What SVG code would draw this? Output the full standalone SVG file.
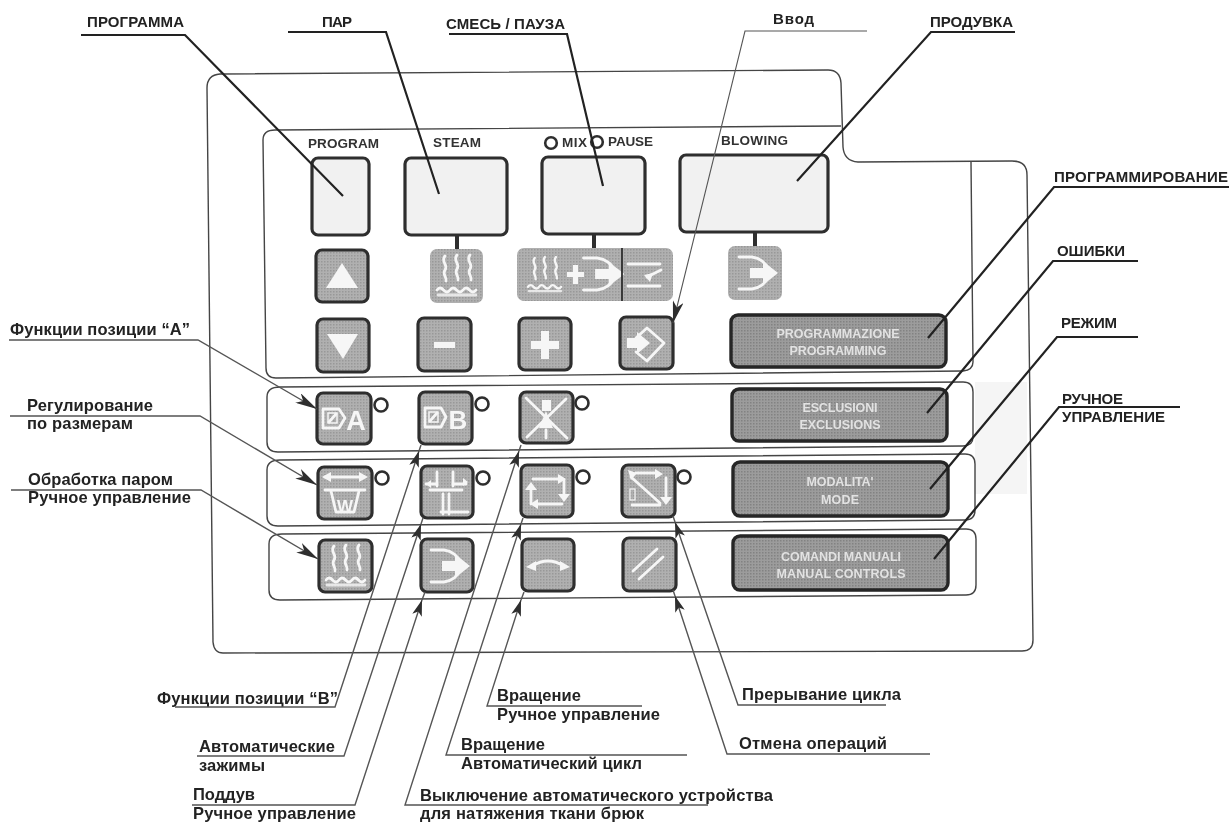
<svg xmlns="http://www.w3.org/2000/svg" width="1230" height="822" viewBox="0 0 1230 822">
<style>
text{font-family:"Liberation Sans",Arial,sans-serif}
.lb{font-weight:bold;font-size:16.500px;fill:#222}
.up{font-weight:bold;font-size:15px;fill:#222}
.pl{font-weight:bold;font-size:13.500px;fill:#333}
.bt{font-size:12.500px;font-weight:bold;fill:#e2e2e2;text-anchor:middle}
.ic{font-weight:bold;fill:#f6f6f6;text-anchor:middle}
.panel{fill:none;stroke:#444;stroke-width:1.4}
.btn{fill:url(#dots);stroke:#2e2e2e;stroke-width:3.200}
.wide{fill:url(#dark);stroke:#252525;stroke-width:3.400}
.disp{fill:#f1f1f1;stroke:#2e2e2e;stroke-width:3.200}
.flat{fill:url(#dots)}
.led{fill:#fff;stroke:#2e2e2e;stroke-width:2.600}
.w{fill:none;stroke:#f6f6f6;stroke-width:2.800;stroke-linecap:round;stroke-linejoin:round}
.wf{fill:#f6f6f6}
.stub{stroke:#2e2e2e;stroke-width:4}
.thick{fill:none;stroke:#222;stroke-width:2.200}
.thin{fill:none;stroke:#555;stroke-width:1.100}
.mid{fill:none;stroke:#555;stroke-width:1.400}
</style>
<defs>
<pattern id="dots" width="3" height="3" patternUnits="userSpaceOnUse"><rect width="3" height="3" fill="#b0b0b0"/><rect width="1.500" height="1.500" fill="#989898"/></pattern>
<pattern id="dark" width="3" height="3" patternUnits="userSpaceOnUse"><rect width="3" height="3" fill="#9c9c9c"/><rect width="1.500" height="1.500" fill="#828282"/></pattern>
<filter id="soft" x="0" y="0" width="100%" height="100%"><feGaussianBlur stdDeviation="0.45"/></filter>
<marker id="ah" markerUnits="userSpaceOnUse" markerWidth="22" markerHeight="11" refX="22" refY="5.500" orient="auto"><path d="M0 0L22 5.500L0 11L6 5.500z" fill="#2e2e2e"/></marker>
<marker id="as" markerUnits="userSpaceOnUse" markerWidth="16" markerHeight="10" refX="16" refY="5" orient="auto"><path d="M0 0L16 5L0 10L4 5z" fill="#2e2e2e"/></marker>
<g id="i-steam"><path class="w" d="M15 7c-5 6 4 9 0 14c-3 4 2 7 1 11M27 6c-5 6 4 9 0 14c-3 4 2 7 1 11M40 6c-5 6 4 9 0 14c-3 4 2 7 1 11"/><path class="w" d="M7 41q3-4 6.500 0t6.500 0t6.500 0t6.500 0t6.500 0t6.500 0" stroke-width="2.200"/><path class="w" d="M8 46H46" stroke-width="1.500" opacity=".8"/></g>
<g id="i-blow"><path class="w" d="M11 11h13c8 1 14 6 16 12M11 43h13c8-1 14-6 16-12"/><path class="wf" d="M22 22h13v-7l15 12l-15 12v-7h-13z"/></g>
</defs>
<rect width="1230" height="822" fill="#fff"/>
<g filter="url(#soft)">
<rect x="975" y="382" width="52" height="112" fill="#f5f5f5"/>
<g id="panels">
<path class="panel" d="M207 88Q207 75 220 74L828 70Q840 70 841 83L843 147Q844 161 858 162L1012 161Q1027 161 1027 175L1033 640Q1033 651 1022 651L223 653Q214 653 213 642z"/>
<path class="panel" d="M971 162L973 362Q973 370 963 371"/>
<path class="panel" d="M841 126L275 130Q263 130 263 140L266 368Q266 378 276 378L963 371" stroke-width="1.800"/>
<path class="panel" d="M280 387L963 382Q973 382 973 392L973 437Q973 446 963 446L278 452Q267 452 267 442L267 397Q267 387 280 387z"/>
<path class="panel" d="M280 460L965 454Q975 454 975 464L975 510Q975 520 965 520L278 526Q267 526 267 516L267 470Q267 460 280 460z"/>
<path class="panel" d="M282 534L966 529Q976 529 976 539L976 585Q976 595 966 595L280 600Q269 600 269 590L269 544Q269 534 282 534z"/>
</g>

<g id="display-program"><text class="pl" x="308" y="148" textLength="71">PROGRAM</text><rect class="disp" x="312" y="158" width="57" height="77" rx="6"/></g>
<g id="display-steam"><text class="pl" x="433" y="147" textLength="48">STEAM</text><path class="stub" d="M457 235V250"/><rect class="disp" x="405" y="158" width="102" height="77" rx="6"/></g>
<g id="display-mix"><circle class="led" cx="551" cy="143" r="5.800"/><text class="pl" x="562" y="147" textLength="25">MIX</text><circle class="led" cx="597" cy="142" r="5.800"/><text class="pl" x="608" y="146" textLength="45">PAUSE</text><path class="stub" d="M594 234V249"/><rect class="disp" x="542" y="157" width="103" height="77" rx="6"/></g>
<g id="display-blowing"><text class="pl" x="721" y="145" textLength="67">BLOWING</text><path class="stub" d="M755 232V247"/><rect class="disp" x="680" y="155" width="148" height="77" rx="6"/></g>

<g id="btn-up"><rect class="btn" x="316" y="250" width="52" height="52" rx="6"/><path class="wf" d="M342 263L358 288H326z"/></g>
<g id="btn-down"><rect class="btn" x="317" y="319" width="52" height="53" rx="6"/><path class="wf" d="M327 334H358L343 359z"/></g>
<g id="btn-minus"><rect class="btn" x="418" y="318" width="53" height="53" rx="6"/><rect class="wf" x="434" y="342" width="21" height="6"/></g>
<g id="btn-plus"><rect class="btn" x="519" y="318" width="52" height="52" rx="6"/><path class="wf" d="M541 331h8v10h10v8h-10v10h-8v-10h-10v-8h10z"/></g>
<g id="btn-enter"><rect class="btn" x="620" y="317" width="53" height="52" rx="6"/><path class="w" d="M636 338L647 328L664 343L647 361L636 352" stroke-width="4"/><path class="wf" d="M627 338h10v-6l13 11l-13 11v-6h-10z"/></g>
<g id="icon-steam"><rect class="flat" x="430" y="249" width="53" height="54" rx="7"/><use href="#i-steam" transform="translate(430 249)"/></g>
<g id="icon-mix"><rect class="flat" x="517" y="248" width="156" height="53" rx="7"/><use href="#i-steam" transform="translate(522 252) scale(.85)"/><path class="wf" d="M567 272h6v-7h5v7h6v5h-6v7h-5v-7h-6z"/><use href="#i-blow" transform="translate(572 247) scale(1.050 1)"/><path d="M622 248V301" stroke="#2e2e2e" stroke-width="1.800"/><path class="w" d="M628 264H660M628 286H660M661 270L647 277" stroke-width="3.500"/><path class="wf" d="M644 275l9-2l-3 9z"/></g>
<g id="icon-blow"><rect class="flat" x="728" y="246" width="54" height="54" rx="7"/><use href="#i-blow" transform="translate(728 246)"/></g>
<g id="btn-programming"><rect class="wide" x="731" y="315" width="215" height="52" rx="7"/><text class="bt" x="838" y="338" textLength="123">PROGRAMMAZIONE</text><text class="bt" x="838" y="355" textLength="97">PROGRAMMING</text></g>

<g id="btn-a"><rect class="btn" x="317" y="393" width="54" height="51" rx="6"/><path class="w" d="M323 409H339L345 418L339 428H323z" stroke-width="1.500"/><rect x="328" y="413" width="9" height="10" fill="none" stroke="#f6f6f6" stroke-width="1.500"/><path class="w" d="M329 422L336 414" stroke-width="1"/><text class="ic" x="356" y="430" font-size="27">A</text><circle class="led" cx="381" cy="405" r="6.500"/></g>
<g id="btn-b"><rect class="btn" x="419" y="392" width="53" height="52" rx="6"/><path class="w" d="M425 408H441L446 417L441 427H425z" stroke-width="1.500"/><rect x="429" y="412" width="9" height="10" fill="none" stroke="#f6f6f6" stroke-width="1.500"/><path class="w" d="M430 421L437 413" stroke-width="1"/><text class="ic" x="458" y="429" font-size="26">B</text><circle class="led" cx="482" cy="404" r="6.500"/></g>
<g id="btn-x"><rect class="btn" x="520" y="392" width="53" height="51" rx="6"/><path class="w" d="M526 398L567 438M566 399L527 437" stroke-width="2.400"/><rect class="wf" x="542" y="400" width="9" height="11"/><path class="wf" d="M546 411L553 428H539z"/><path class="w" d="M546 430V438" stroke-width="1.500"/><circle class="led" cx="582" cy="403" r="6.500"/></g>

<g id="btn-w"><rect class="btn" x="318" y="467" width="54" height="52" rx="6"/><path class="w" d="M325 477H364M325 490H365" stroke-width="2.400"/><path class="wf" d="M322 477l9-5v10zM368 477l-9-5v10z"/><path class="w" d="M331 491L336 512H354L359 491" stroke-width="2.200"/><text class="ic" x="345" y="512" font-size="17">W</text><circle class="led" cx="382" cy="478" r="6.500"/></g>
<g id="btn-clamps"><rect class="btn" x="421" y="466" width="52" height="52" rx="6"/><path class="w" d="M437 472V486M453 472V486M443 494V514M449 494V514" stroke-width="4"/><path class="w" d="M426 484H437M453 484H466M430 490H462M441 512H468" stroke-width="2"/><path class="wf" d="M426 484l5-4v8zM468 482l-5-4v8z"/><circle class="led" cx="483" cy="478" r="6.500"/></g>
<g id="btn-rot"><rect class="btn" x="521" y="465" width="52" height="52" rx="6"/><path class="w" d="M533 479H560M564 480V498M562 504H537M531 504V490" stroke-width="2.800"/><path class="wf" d="M558 474l8 5l-8 5zM558 494h12l-6 8zM538 499v10l-8-5zM525 490h12l-6-8z"/><circle class="led" cx="583" cy="477" r="6.500"/></g>
<g id="btn-rot2"><rect class="btn" x="622" y="465" width="53" height="52" rx="6"/><path class="w" d="M631 477L660 503M636 473H657M666 478V500M632 505H660" stroke-width="2.600"/><path class="wf" d="M655 469l8 5l-8 5zM660 497h12l-6 8zM628 470l9 3l-6 7z"/><rect x="630" y="489" width="5" height="11" fill="none" stroke="#f6f6f6" stroke-width="1.200"/><circle class="led" cx="684" cy="477" r="6.500"/></g>

<g id="btn-steam-man"><rect class="btn" x="319" y="540" width="53" height="52" rx="6"/><use href="#i-steam" transform="translate(319 539)"/></g>
<g id="btn-blow-man"><rect class="btn" x="421" y="539" width="52" height="53" rx="6"/><use href="#i-blow" transform="translate(420 539)"/></g>
<g id="btn-arc"><rect class="btn" x="522" y="539" width="52" height="52" rx="6"/><path class="w" d="M532 566Q548 556 564 566" stroke-width="2.600"/><path class="wf" d="M526 567l10-6v10zM570 567l-10-6v10z"/></g>
<g id="btn-cancel"><rect class="btn" x="623" y="538" width="53" height="53" rx="6"/><path class="w" d="M633 571L657 549M639 579L663 557" stroke-width="4"/></g>

<g id="btn-exclusions"><rect class="wide" x="732" y="389" width="215" height="52" rx="7"/><text class="bt" x="840" y="412" textLength="75">ESCLUSIONI</text><text class="bt" x="840" y="429" textLength="81">EXCLUSIONS</text></g>
<g id="btn-mode"><rect class="wide" x="733" y="462" width="215" height="54" rx="7"/><text class="bt" x="840" y="486" textLength="67">MODALITA'</text><text class="bt" x="840" y="504" textLength="38">MODE</text></g>
<g id="btn-manual"><rect class="wide" x="733" y="536" width="215" height="54" rx="7"/><text class="bt" x="841" y="561" textLength="120">COMANDI MANUALI</text><text class="bt" x="841" y="578" textLength="129">MANUAL CONTROLS</text></g>

<g id="labels">
<text class="up" x="87" y="27" textLength="97">ПРОГРАММА</text>
<text class="up" x="322" y="27" textLength="30">ПАР</text>
<text class="up" x="446" y="29" textLength="119">СМЕСЬ / ПАУЗА</text>
<text class="up" x="773" y="24" textLength="41">Ввод</text>
<text class="up" x="930" y="27" textLength="83">ПРОДУВКА</text>
<text class="up" x="1054" y="182" textLength="174">ПРОГРАММИРОВАНИЕ</text>
<text class="up" x="1057" y="256" textLength="68">ОШИБКИ</text>
<text class="up" x="1061" y="328" textLength="56">РЕЖИМ</text>
<text class="up" x="1062" y="404" textLength="61">РУЧНОЕ</text>
<text class="up" x="1062" y="422" textLength="103">УПРАВЛЕНИЕ</text>
<text class="lb" x="10" y="335" textLength="180">Функции позиции “А”</text>
<text class="lb" x="27" y="411" textLength="126">Регулирование</text>
<text class="lb" x="27" y="429" textLength="106">по размерам</text>
<text class="lb" x="28" y="485" textLength="145">Обработка паром</text>
<text class="lb" x="28" y="503" textLength="163">Ручное управление</text>
<text class="lb" x="157" y="704" textLength="181">Функции позиции “B”</text>
<text class="lb" x="199" y="752" textLength="136">Автоматические</text>
<text class="lb" x="199" y="771" textLength="66">зажимы</text>
<text class="lb" x="193" y="800" textLength="62">Поддув</text>
<text class="lb" x="193" y="819" textLength="163">Ручное управление</text>
<text class="lb" x="420" y="801" textLength="353">Выключение автоматического устройства</text>
<text class="lb" x="420" y="819" textLength="224">для натяжения ткани брюк</text>
<text class="lb" x="461" y="750" textLength="84">Вращение</text>
<text class="lb" x="461" y="769" textLength="181">Автоматический цикл</text>
<text class="lb" x="497" y="701" textLength="84">Вращение</text>
<text class="lb" x="497" y="720" textLength="163">Ручное управление</text>
<text class="lb" x="742" y="700" textLength="159">Прерывание цикла</text>
<text class="lb" x="739" y="749" textLength="148">Отмена операций</text>
</g>

<g id="connectors">
<path class="thick" d="M81 35H185L343 196"/>
<path class="thick" d="M288 32H386L439 194"/>
<path class="thick" d="M449 34H567L603 186"/>
<path class="thin" d="M867 31H745L673 323" marker-end="url(#ah)"/>
<path class="thick" d="M1015 32H931L797 181"/>
<path class="thick" d="M1229 187H1054L928 338"/>
<path class="thick" d="M1138 261H1053L927 413"/>
<path class="thick" d="M1138 337H1057L930 489"/>
<path class="thick" d="M1180 407H1059L934 559"/>
<path class="mid" d="M9 340H198L317 409" marker-end="url(#ah)"/>
<path class="mid" d="M10 416H200L317 485" marker-end="url(#ah)"/>
<path class="mid" d="M11 490H201L318 559" marker-end="url(#ah)"/>
<path class="mid" d="M175 707H335L419 451" marker-end="url(#as)"/><path class="mid" d="M419 451L421 445"/>
<path class="mid" d="M197 756H344L421 524" marker-end="url(#as)"/><path class="mid" d="M421 524L423 518"/>
<path class="mid" d="M192 805H355L422 600" marker-end="url(#as)"/><path class="mid" d="M422 600L425 592"/>
<path class="mid" d="M708 805H405L519 451" marker-end="url(#as)"/><path class="mid" d="M519 451L521 445"/>
<path class="mid" d="M687 755H446L521 524" marker-end="url(#as)"/><path class="mid" d="M521 524L523 518"/>
<path class="mid" d="M642 706H487L521 600" marker-end="url(#as)"/><path class="mid" d="M521 600L524 592"/>
<path class="mid" d="M886 705H738L675 522" marker-end="url(#as)"/><path class="mid" d="M675 522L673 516"/>
<path class="mid" d="M930 754H727L675 596" marker-end="url(#as)"/><path class="mid" d="M675 596L673 590"/>
</g>
</g>
</svg>
